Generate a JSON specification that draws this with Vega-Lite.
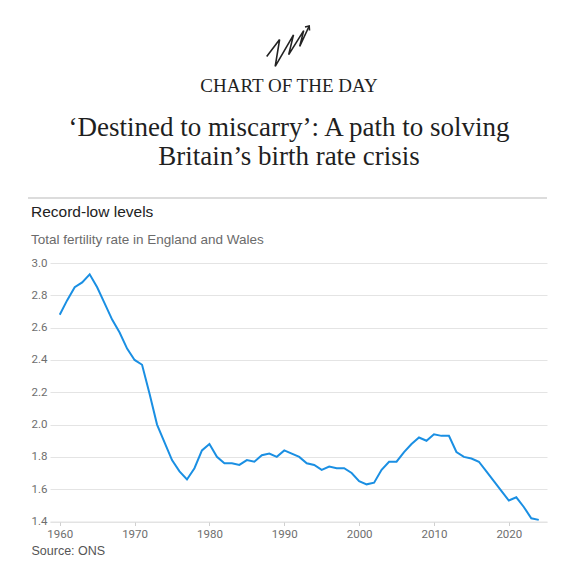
{
  "$schema": "https://vega.github.io/schema/vega-lite/v6.json",
  "background": "white",
  "padding": {"left": 26, "top": 22, "right": 0, "bottom": 0},
  "spacing": 6,
  "config": {
    "view": {"stroke": null},
    "font": "Liberation Sans"
  },
  "datasets": {
    "icon": [
      {"part": "zig", "order": 1, "ix": 0.7, "iy": 10.6},
      {"part": "zig", "order": 2, "ix": 13.6, "iy": 27.4},
      {"part": "zig", "order": 3, "ix": 9.2, "iy": 0.6},
      {"part": "zig", "order": 4, "ix": 27.5, "iy": 32.1},
      {"part": "zig", "order": 5, "ix": 22.7, "iy": 12.4},
      {"part": "zig", "order": 6, "ix": 37.7, "iy": 36.4},
      {"part": "zig", "order": 7, "ix": 33.7, "iy": 20.6},
      {"part": "zig", "order": 8, "ix": 43.2, "iy": 41},
      {"part": "head", "order": 1, "ix": 39, "iy": 40},
      {"part": "head", "order": 2, "ix": 43.2, "iy": 41},
      {"part": "head", "order": 3, "ix": 43.5, "iy": 36.5}
    ],
    "tfr": [
      {"year": 1960, "rate": 2.68}, {"year": 1961, "rate": 2.77}, {"year": 1962, "rate": 2.85},
      {"year": 1963, "rate": 2.88}, {"year": 1964, "rate": 2.93}, {"year": 1965, "rate": 2.85},
      {"year": 1966, "rate": 2.75}, {"year": 1967, "rate": 2.65}, {"year": 1968, "rate": 2.57},
      {"year": 1969, "rate": 2.47}, {"year": 1970, "rate": 2.40}, {"year": 1971, "rate": 2.37},
      {"year": 1972, "rate": 2.19}, {"year": 1973, "rate": 2.00}, {"year": 1974, "rate": 1.89},
      {"year": 1975, "rate": 1.78}, {"year": 1976, "rate": 1.71}, {"year": 1977, "rate": 1.66},
      {"year": 1978, "rate": 1.73}, {"year": 1979, "rate": 1.84}, {"year": 1980, "rate": 1.88},
      {"year": 1981, "rate": 1.80}, {"year": 1982, "rate": 1.76}, {"year": 1983, "rate": 1.76},
      {"year": 1984, "rate": 1.75}, {"year": 1985, "rate": 1.78}, {"year": 1986, "rate": 1.77},
      {"year": 1987, "rate": 1.81}, {"year": 1988, "rate": 1.82}, {"year": 1989, "rate": 1.80},
      {"year": 1990, "rate": 1.84}, {"year": 1991, "rate": 1.82}, {"year": 1992, "rate": 1.80},
      {"year": 1993, "rate": 1.76}, {"year": 1994, "rate": 1.75}, {"year": 1995, "rate": 1.72},
      {"year": 1996, "rate": 1.74}, {"year": 1997, "rate": 1.73}, {"year": 1998, "rate": 1.73},
      {"year": 1999, "rate": 1.70}, {"year": 2000, "rate": 1.65}, {"year": 2001, "rate": 1.63},
      {"year": 2002, "rate": 1.64}, {"year": 2003, "rate": 1.72}, {"year": 2004, "rate": 1.77},
      {"year": 2005, "rate": 1.77}, {"year": 2006, "rate": 1.83}, {"year": 2007, "rate": 1.88},
      {"year": 2008, "rate": 1.92}, {"year": 2009, "rate": 1.90}, {"year": 2010, "rate": 1.94},
      {"year": 2011, "rate": 1.93}, {"year": 2012, "rate": 1.93}, {"year": 2013, "rate": 1.83},
      {"year": 2014, "rate": 1.80}, {"year": 2015, "rate": 1.79}, {"year": 2016, "rate": 1.77},
      {"year": 2017, "rate": 1.71}, {"year": 2018, "rate": 1.65}, {"year": 2019, "rate": 1.59},
      {"year": 2020, "rate": 1.53}, {"year": 2021, "rate": 1.55}, {"year": 2022, "rate": 1.49},
      {"year": 2023, "rate": 1.42}, {"year": 2024, "rate": 1.41}
    ],
    "divider": [{"a": -0.0443, "b": 1, "y": 0}]
  },
  "vconcat": [
    {
      "width": 478,
      "height": 41,
      "data": {"name": "icon"},
      "title": {
        "text": "CHART OF THE DAY",
        "subtitle": ["‘Destined to miscarry’: A path to solving", "Britain’s birth rate crisis"],
        "orient": "bottom",
        "anchor": "middle",
        "offset": 7,
        "font": "Liberation Serif",
        "fontSize": 19,
        "fontWeight": "normal",
        "color": "#1f1f1f",
        "subtitleFont": "Liberation Serif",
        "subtitleFontSize": 27,
        "subtitleColor": "#1f1f1f",
        "subtitleLineHeight": 29,
        "subtitlePadding": 19
      },
      "mark": {"type": "line", "color": "#222222", "strokeWidth": 1.6, "strokeJoin": "miter"},
      "encoding": {
        "x": {"field": "ix", "type": "quantitative", "scale": {"domain": [-216, 262]}, "axis": null},
        "y": {"field": "iy", "type": "quantitative", "scale": {"domain": [0, 41]}, "axis": null},
        "detail": {"field": "part"},
        "order": {"field": "order"}
      }
    },
    {
      "width": 497,
      "height": 22,
      "data": {"name": "divider"},
      "mark": {"type": "rule", "color": "#dcdcdc", "strokeWidth": 2},
      "encoding": {
        "x": {"field": "a", "type": "quantitative", "scale": {"domain": [0, 1]}, "axis": null},
        "x2": {"field": "b"},
        "y": {"field": "y", "type": "quantitative", "scale": {"domain": [0, 1]}, "axis": null}
      }
    },
    {
      "width": 497,
      "height": 258.5,
      "data": {"name": "tfr"},
      "title": {
        "text": "Record-low levels",
        "subtitle": "Total fertility rate in England and Wales",
        "anchor": "start",
        "frame": "bounds",
        "offset": 11,
        "font": "Liberation Sans",
        "fontSize": 15.5,
        "fontWeight": "normal",
        "color": "#222222",
        "subtitleFont": "Liberation Sans",
        "subtitleFontSize": 13.5,
        "subtitleColor": "#6b6b6b",
        "subtitlePadding": 12
      },
      "mark": {"type": "line", "color": "#1a8fe3", "strokeWidth": 2},
      "encoding": {
        "x": {
          "field": "year",
          "type": "quantitative",
          "scale": {"domain": [1958.7, 2025.1], "nice": false, "zero": false},
          "axis": {
            "values": [1960, 1970, 1980, 1990, 2000, 2010, 2020],
            "format": "d",
            "grid": false,
            "domainColor": "#e2e2e2",
            "tickColor": "#d0d0d0",
            "tickSize": 4,
            "labelFont": "Roboto",
            "labelFontSize": 11.5,
            "labelColor": "#6e6e6e",
            "labelPadding": 3,
            "title": "Source: ONS",
            "titleFont": "Liberation Sans",
            "titleFontSize": 12.5,
            "titleFontWeight": "normal",
            "titleColor": "#555555",
            "titleAnchor": "start",
            "titleAlign": "left",
            "titleX": -19,
            "titlePadding": 4
          }
        },
        "y": {
          "field": "rate",
          "type": "quantitative",
          "scale": {"domain": [1.4, 3.0], "nice": false, "zero": false},
          "axis": {
            "values": [1.4, 1.6, 1.8, 2.0, 2.2, 2.4, 2.6, 2.8, 3.0],
            "format": ".1f",
            "domain": false,
            "ticks": false,
            "gridColor": "#e4e4e4",
            "labelFont": "Roboto",
            "labelFontSize": 11.5,
            "labelColor": "#6e6e6e",
            "labelPadding": 3,
            "title": null
          }
        }
      }
    }
  ]
}
